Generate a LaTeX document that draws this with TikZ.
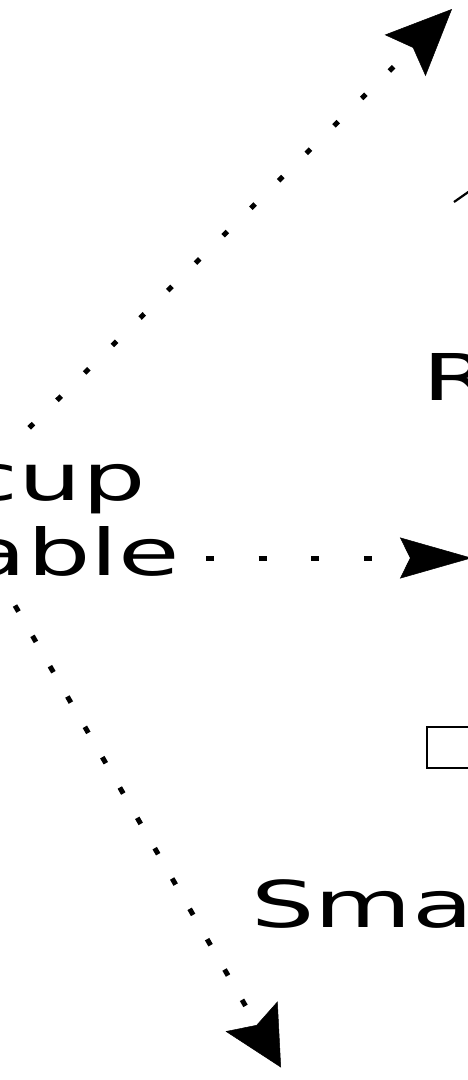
\documentclass[tikz,border=0pt]{standalone}
\usepackage{fontspec}
\setmainfont{DejaVu Sans}[FakeStretch=1.55]
\usetikzlibrary{arrows.meta}
\begin{document}
\begin{tikzpicture}[x=1pt,y=-1pt,
  lbl/.style={inner sep=0pt, outer sep=0pt, font=\fontsize{64.5}{75}\selectfont},
  dotbase/.style={line width=5pt, line cap=butt},
  dotup/.style={dotbase, dash pattern=on 6pt off 33pt},
  dothor/.style={dotbase, dash pattern=on 8pt off 44.7pt},
  dotdown/.style={dotbase, dash pattern=on 7pt off 28pt},
  solidline/.style={line width=2.2pt}]
\useasboundingbox (0,0) rectangle (467,1080);
% text fragments
\node[lbl, anchor=base east] (cup) at (145.5,500) {cup};
\node[lbl, anchor=base east] (able) at (180,575) {able};
\node[lbl, anchor=base west] (R) at (422,400) {R};
\node[lbl, anchor=base west] (Sma) at (251.5,927) {Sma};
% rectangle fragment
\node[draw, line width=2pt, inner sep=0pt, minimum width=80pt, minimum height=41pt, anchor=north west] (box) at (426,725.5) {};
% connector end points
\coordinate (u0) at (29.2,427.8);
\coordinate (u1) at (452,9);
\coordinate (h0) at (206,558);
\coordinate (h1) at (472,558);
\coordinate (d0) at (15,605.5);
\coordinate (d1) at (281,1067.5);
\coordinate (s0) at (454,202);
\coordinate (s1) at (485,180.3);
% connectors
\draw[dotup, -{Stealth[length=66pt,width=58pt,inset=11pt,line width=0.5pt]}] (u0) -- (u1);
\draw[dothor, -{Stealth[length=72pt,width=41pt,inset=10pt,line width=0.5pt]}] (h0) -- (h1);
\draw[dotdown, -{Stealth[length=59pt,width=60pt,inset=10pt,line width=0.5pt]}] (d0) -- (d1);
\draw[solidline] (s0) -- (s1);
\end{tikzpicture}
\end{document}
